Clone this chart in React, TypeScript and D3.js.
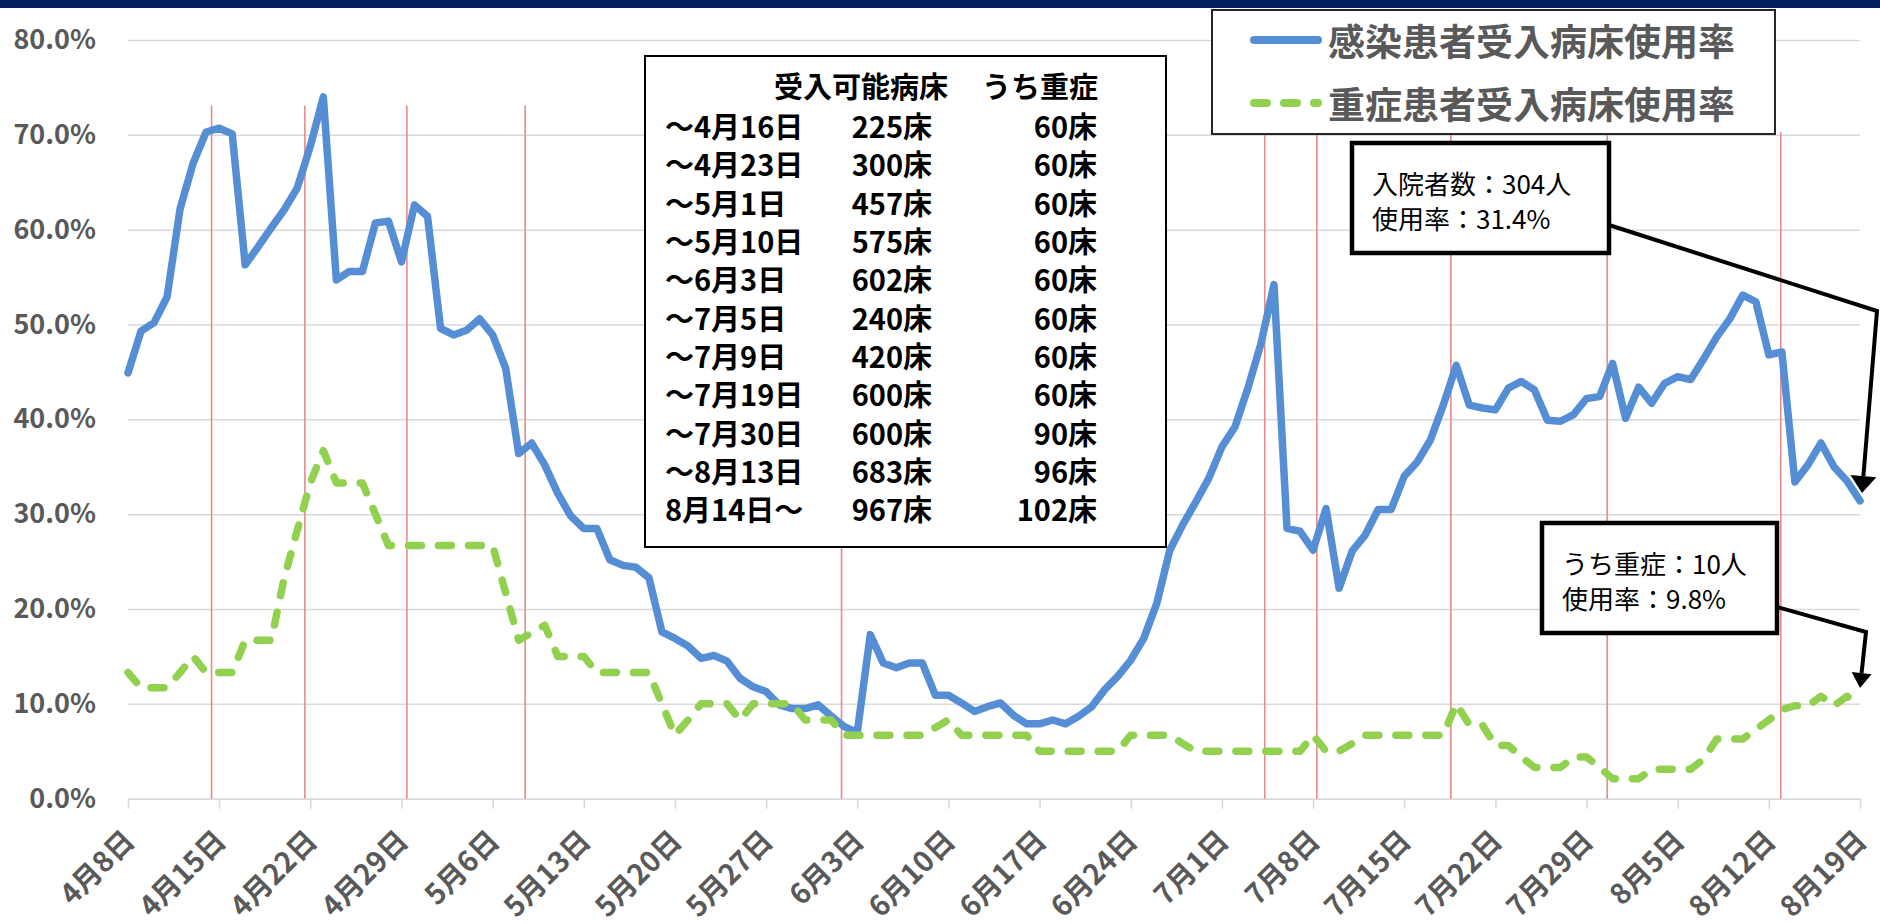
import React, { useEffect, useRef } from "react";
import * as d3 from "d3";

// 感染患者受入病床使用率 (%) 4月8日〜8月19日, one value per day
const bedRate = [
  44.9, 49.3, 50.2, 52.9, 62.2, 67.0, 70.3,
  70.7, 70.1, 56.3, 58.2, 60.2, 62.1, 64.4,
  68.8, 74.0, 54.7, 55.6, 55.6, 60.7, 60.9,
  56.6, 62.6, 61.4, 49.6, 48.9, 49.4, 50.6,
  48.9, 45.4, 36.4, 37.5, 35.2, 32.2, 29.8,
  28.5, 28.5, 25.2, 24.6, 24.4, 23.3, 17.6,
  16.9, 16.1, 14.8, 15.1, 14.5, 12.7, 11.8,
  11.3, 9.9, 9.5, 9.5, 9.9, 8.7, 7.6,
  7.0, 17.3, 14.3, 13.8, 14.3, 14.3, 10.9,
  10.9, 10.1, 9.2, 9.7, 10.1, 8.8, 7.9,
  7.9, 8.3, 7.9, 8.7, 9.7, 11.5, 12.9,
  14.6, 16.9, 20.6, 26.2, 28.9, 31.3, 33.8,
  37.1, 39.2, 43.3, 48.0, 54.2, 28.5, 28.2,
  26.2, 30.6, 22.2, 26.1, 27.8, 30.5, 30.5,
  34.0, 35.5, 37.8, 41.5, 45.7, 41.5, 41.2,
  41.0, 43.3, 44.0, 43.1, 39.9, 39.8, 40.5,
  42.2, 42.4, 45.9, 40.1, 43.4, 41.7, 43.8,
  44.5, 44.2, 46.4, 48.7, 50.6, 53.1, 52.4,
  46.8, 47.1, 33.4, 35.2, 37.5, 35.0, 33.5,
  31.4,
];

// 重症患者受入病床使用率 (%)
const severeRate = [
  13.3, 11.7, 11.7, 11.7, 13.3, 15.0, 13.3,
  13.3, 13.3, 16.7, 16.7, 16.7, 23.3, 28.3,
  33.3, 36.7, 33.3, 33.3, 33.3, 30.0, 26.7,
  26.7, 26.7, 26.7, 26.7, 26.7, 26.7, 26.7,
  26.7, 21.7, 16.7, 17.5, 18.3, 15.0, 15.0,
  15.0, 13.3, 13.3, 13.3, 13.3, 13.3, 10.0,
  6.7, 8.3, 10.0, 10.0, 10.0, 8.3, 10.0,
  10.0, 10.0, 10.0, 8.3, 8.3, 8.3, 6.7,
  6.7, 6.7, 6.7, 6.7, 6.7, 6.7, 7.5,
  8.3, 6.7, 6.7, 6.7, 6.7, 6.7, 6.7,
  5.0, 5.0, 5.0, 5.0, 5.0, 5.0, 5.0,
  6.7, 6.7, 6.7, 6.7, 5.8, 5.0, 5.0,
  5.0, 5.0, 5.0, 5.0, 5.0, 5.0, 5.0,
  6.7, 5.0, 5.0, 5.8, 6.7, 6.7, 6.7,
  6.7, 6.7, 6.7, 6.7, 10.0, 7.8, 7.8,
  5.6, 5.6, 4.4, 3.3, 3.3, 3.3, 4.4,
  4.4, 3.3, 2.1, 2.1, 2.1, 3.1, 3.1,
  3.1, 3.1, 4.2, 6.3, 6.3, 6.3, 7.3,
  8.3, 9.4, 9.8, 9.8, 10.8, 9.8, 10.8,
  9.8,
];

const startDay = "2020-04-08";

const tickLabels = [
  "4月8日", "4月15日", "4月22日", "4月29日", "5月6日", "5月13日", "5月20日",
  "5月27日", "6月3日", "6月10日", "6月17日", "6月24日", "7月1日", "7月8日",
  "7月15日", "7月22日", "7月29日", "8月5日", "8月12日", "8月19日",
];

// days after 4/8 where bed capacity changed (red lines), and their top (%)
const changeDays = [6.4, 13.6, 21.4, 30.5, 54.8, 87.3, 91.3, 101.6, 113.6, 126.9];
const changeTop = [73.1, 73.1, 73.1, 73.1, 70.3, 70.3, 70.3, 70.3, 70.3, 70.3];

const legendNames = ["感染患者受入病床使用率", "重症患者受入病床使用率"];

const tableHead = ["受入可能病床", "うち重症"];
const tablePeriods = [
  "～4月16日", "～4月23日", "～5月1日", "～5月10日", "～6月3日", "～7月5日",
  "～7月9日", "～7月19日", "～7月30日", "～8月13日", "8月14日～",
];
const tableBeds = ["225床", "300床", "457床", "575床", "602床", "240床", "420床", "600床", "600床", "683床", "967床"];
const tableSevere = ["60床", "60床", "60床", "60床", "60床", "60床", "60床", "60床", "90床", "96床", "102床"];

const noteBeds = ["入院者数：304人", "使用率：31.4%"];
const noteSevere = ["うち重症：10人", "使用率：9.8%"];

export default function App() {
  const svgRef = useRef<SVGSVGElement>(null);

  useEffect(() => {
    const width = 1880;
    const height = 924;
    const font = "'Noto Sans CJK JP', 'Noto Sans', sans-serif";
    const gray = "#595959";
    const blue = "#558ED5";
    const green = "#92D050";

    const svg = d3.select(svgRef.current);
    svg.selectAll("*").remove();
    svg.attr("width", width).attr("height", height).style("background", "#fff");

    const start = d3.timeParse("%Y-%m-%d")(startDay) as Date;
    const dates = bedRate.map((_, i) => d3.timeDay.offset(start, i));

    const x = d3.scaleTime().domain([dates[0], dates[dates.length - 1]]).range([128, 1860]);
    const y = d3.scaleLinear().domain([0, 0.8]).range([798.7, 40]);

    // 上の帯
    svg.append("rect").attr("x", 0).attr("y", 0).attr("width", width).attr("height", 8).attr("fill", "#002060");

    // Y axis + gridlines
    svg
      .append("g")
      .attr("transform", "translate(128,0)")
      .call(
        d3
          .axisLeft(y)
          .tickValues(d3.range(0, 9).map((i) => i / 10))
          .tickFormat(d3.format(".1%") as any)
          .tickSize(-1732)
          .tickPadding(32)
      )
      .call((g) => g.select(".domain").remove())
      .call((g) => g.selectAll(".tick line").attr("stroke", "#D9D9D9").attr("stroke-width", 1.5))
      .call((g) =>
        g
          .selectAll(".tick text")
          .attr("fill", gray)
          .style("font-family", font)
          .style("font-size", "27px")
          .style("font-weight", 700)
      );

    // X axis
    const weekly = tickLabels.map((_, i) => dates[i * 7]);
    svg
      .append("g")
      .attr("transform", `translate(0,${y(0)})`)
      .call(
        d3
          .axisBottom(x)
          .tickValues(weekly)
          .tickFormat((_, i) => tickLabels[i])
          .tickSize(10)
          .tickSizeOuter(0)
      )
      .call((g) => g.select(".domain").attr("stroke", "#D9D9D9").attr("stroke-width", 1.5))
      .call((g) => g.selectAll(".tick line").attr("stroke", "#D9D9D9").attr("stroke-width", 1.5))
      .call((g) =>
        g
          .selectAll(".tick text")
          .attr("fill", gray)
          .attr("x", 0)
          .attr("y", 0)
          .attr("dy", null)
          .attr("text-anchor", "end")
          .attr("transform", "translate(8,44) rotate(-45)")
          .style("font-family", font)
          .style("font-size", "28.5px")
          .style("font-weight", 700)
      );

    // 病床数変更の赤線
    svg
      .selectAll(".change")
      .data(changeDays)
      .enter()
      .append("line")
      .attr("x1", (d) => x(d3.timeHour.offset(start, Math.round(d * 24))))
      .attr("x2", (d) => x(d3.timeHour.offset(start, Math.round(d * 24))))
      .attr("y1", (_, i) => y(changeTop[i] / 100))
      .attr("y2", y(0))
      .attr("stroke", "#E98A8A")
      .attr("stroke-width", 1.6);

    const line = d3
      .line<number>()
      .x((_, i) => x(dates[i]))
      .y((d) => y(d / 100));

    svg
      .append("path")
      .datum(bedRate)
      .attr("d", line)
      .attr("fill", "none")
      .attr("stroke", blue)
      .attr("stroke-width", 7.5)
      .attr("stroke-linejoin", "round")
      .attr("stroke-linecap", "round");

    svg
      .append("path")
      .datum(severeRate)
      .attr("d", line)
      .attr("fill", "none")
      .attr("stroke", green)
      .attr("stroke-width", 7.5)
      .attr("stroke-dasharray", "13,17")
      .attr("stroke-linejoin", "round")
      .attr("stroke-linecap", "round");

    // 凡例
    const legend = svg.append("g");
    legend
      .append("rect")
      .attr("x", 1212)
      .attr("y", 10)
      .attr("width", 563)
      .attr("height", 124)
      .attr("fill", "#fff")
      .attr("stroke", "#262626")
      .attr("stroke-width", 2);
    legendNames.forEach((name, i) => {
      const ly = 40 + i * 63;
      legend
        .append("line")
        .attr("x1", 1254)
        .attr("x2", 1318)
        .attr("y1", ly)
        .attr("y2", ly)
        .attr("stroke", i === 0 ? blue : green)
        .attr("stroke-width", 8)
        .attr("stroke-linecap", "round")
        .attr("stroke-dasharray", i === 0 ? null : "13,17");
      legend
        .append("text")
        .attr("x", 1328)
        .attr("y", ly)
        .attr("dominant-baseline", "central")
        .attr("fill", gray)
        .style("font-family", font)
        .style("font-size", "37px")
        .style("font-weight", 700)
        .text(name);
    });

    // 病床数の表
    const table = svg.append("g").style("font-family", font).style("font-weight", 700).style("font-size", "29px");
    table
      .append("rect")
      .attr("x", 645)
      .attr("y", 56)
      .attr("width", 521)
      .attr("height", 491)
      .attr("fill", "#fff")
      .attr("stroke", "#000")
      .attr("stroke-width", 2);
    table.append("text").attr("x", 774).attr("y", 85).attr("dominant-baseline", "central").text(tableHead[0]);
    table
      .append("text")
      .attr("x", 1098)
      .attr("y", 85)
      .attr("text-anchor", "end")
      .attr("dominant-baseline", "central")
      .text(tableHead[1]);
    tablePeriods.forEach((p, i) => {
      const ry = 125 + i * 38.33;
      table.append("text").attr("x", 665).attr("y", ry).attr("dominant-baseline", "central").text(p);
      table
        .append("text")
        .attr("x", 932)
        .attr("y", ry)
        .attr("text-anchor", "end")
        .attr("dominant-baseline", "central")
        .text(tableBeds[i]);
      table
        .append("text")
        .attr("x", 1097)
        .attr("y", ry)
        .attr("text-anchor", "end")
        .attr("dominant-baseline", "central")
        .text(tableSevere[i]);
    });

    // 吹き出し
    const callout = (bx: number, by: number, bw: number, bh: number, lines: string[]) => {
      svg
        .append("rect")
        .attr("x", bx)
        .attr("y", by)
        .attr("width", bw)
        .attr("height", bh)
        .attr("fill", "#fff")
        .attr("stroke", "#000")
        .attr("stroke-width", 4.5);
      lines.forEach((t, i) => {
        svg
          .append("text")
          .attr("x", bx + 20)
          .attr("y", by + 39 + i * 35)
          .attr("dominant-baseline", "central")
          .style("font-family", font)
          .style("font-size", "26px")
          .text(t);
      });
    };

    const leader = (pts: [number, number][], headLen: number, headW: number) => {
      const [px, py] = pts[pts.length - 2];
      const [tx, ty] = pts[pts.length - 1];
      const len = Math.hypot(tx - px, ty - py);
      const ux = (tx - px) / len;
      const uy = (ty - py) / len;
      const bx = tx - ux * headLen;
      const by = ty - uy * headLen;
      const path = [...pts.slice(0, -1), [bx, by]];
      svg
        .append("polyline")
        .attr("points", path.map((p) => p.join(",")).join(" "))
        .attr("fill", "none")
        .attr("stroke", "#000")
        .attr("stroke-width", 4);
      svg
        .append("path")
        .attr(
          "d",
          `M${tx},${ty}L${bx - (uy * headW) / 2},${by + (ux * headW) / 2}L${bx + (uy * headW) / 2},${by - (ux * headW) / 2}Z`
        )
        .attr("fill", "#000");
    };

    callout(1352, 143, 257, 110, noteBeds);
    leader([[1609, 225], [1877, 311], [1862, 493]], 17, 26);

    callout(1542, 523, 235, 110, noteSevere);
    leader([[1777, 607], [1866, 632], [1860, 688]], 15, 20);
  }, []);

  return (
    <div style={{ position: "absolute", left: 0, top: 0 }}>
      <svg ref={svgRef} style={{ display: "block" }} />
    </div>
  );
}
